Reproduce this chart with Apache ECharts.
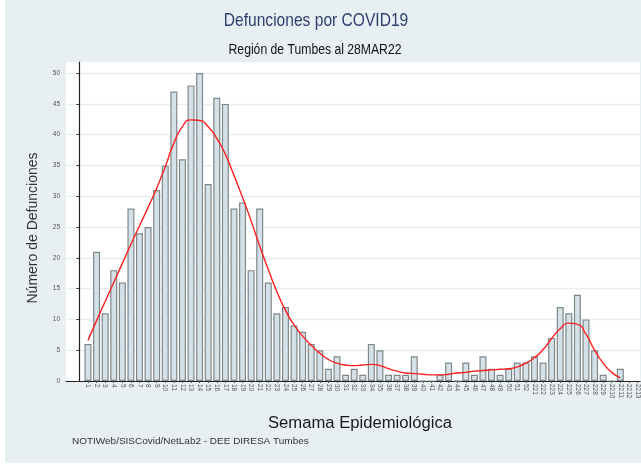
<!DOCTYPE html>
<html>
<head>
<meta charset="utf-8">
<script src="https://cdn.jsdelivr.net/npm/echarts@6/dist/echarts.min.js"></script>
<style>
  html, body { margin: 0; padding: 0; background: #ffffff; }
  #wrap { position: absolute; left: 5px; top: 0; width: 636px; height: 463px; background: #e8eff2; }
  #chart { width: 636px; height: 463px; }
</style>
</head>
<body>
<div id="wrap"><div id="chart"></div></div>
<script>
// Semana epidemiológica labels (2021: 1..52, 2022: 221..2213)
const weekLabels = [
  '1','2','3','4','5','6','7','8','9','10','11','12','13','14','15','16','17','18','19','20',
  '21','22','23','24','25','26','27','28','29','30','31','32','33','34','35','36','37','38','39','40',
  '41','42','43','44','45','46','47','48','49','50','51','52',
  '221','222','223','224','225','226','227','228','229','2210','2211','2212','2213'
];
// Weekly deaths (bars)
const deaths = [
  6, 21, 11, 18, 16, 28, 24, 25, 31, 35, 47, 36, 48, 50, 32, 46, 45, 28, 29, 18,
  28, 16, 11, 12, 9, 8, 6, 5, 2, 4, 1, 2, 1, 6, 5, 1, 1, 1, 4, 0,
  0, 1, 3, 0, 3, 1, 4, 2, 1, 2, 3, 3, 4, 3, 7, 12, 11, 14, 10, 5,
  1, 0, 2
];
// Smoothed trend (red curve)
const trend = [
  6.6, 9.8, 12.9, 16.0, 19.1, 22.2, 25.2, 28.2, 31.3, 34.8, 38.6, 41.3, 42.4, 42.3, 41.3, 39.4, 36.8, 33.4, 29.8, 26.0,
  21.9, 18.1, 14.5, 11.5, 9.1, 7.3, 5.8, 4.5, 3.5, 2.9, 2.6, 2.5, 2.6, 2.7, 2.5, 2.0, 1.6, 1.3, 1.2, 1.1,
  1.0, 1.0, 1.1, 1.3, 1.4, 1.6, 1.7, 1.8, 1.9, 2.0, 2.3, 2.9, 3.8, 5.1, 6.9, 8.5, 9.4, 9.2, 7.6, 5.0,
  2.9, 1.4, 0.5
];
const yTicks = [0, 5, 10, 15, 20, 25, 30, 35, 40, 45, 50];

const FONT = "'Liberation Sans', Arial, sans-serif";
const xPos = weekLabels.map((_, i) => i + 1);

const chart = echarts.init(document.getElementById('chart'), null, { renderer: 'canvas' });
chart.setOption({
  backgroundColor: 'transparent',
  animation: false,
  grid: { left: 61, top: 62, right: 0, bottom: 82, show: true, backgroundColor: '#ffffff', borderWidth: 0 },
  xAxis: {
    type: 'value',
    min: -1.56,
    max: 65.3,
    axisLine: { show: true, onZero: false, lineStyle: { color: '#222', width: 1.2 } },
    axisTick: { show: true, customValues: xPos, length: 2, lineStyle: { color: '#555' } },
    splitLine: { show: false },
    axisLabel: {
      customValues: xPos,
      rotate: -90,
      fontSize: 6.5,
      fontFamily: FONT,
      color: '#555',
      margin: 3,
      formatter: v => weekLabels[Math.round(v) - 1] || ''
    }
  },
  yAxis: {
    type: 'value',
    min: 0,
    max: 51.8,
    axisLine: { show: true, lineStyle: { color: '#222', width: 1.2 } },
    axisTick: { show: true, customValues: yTicks, length: 3, lineStyle: { color: '#333' } },
    axisLabel: { customValues: yTicks, fontSize: 6.5, fontFamily: FONT, color: '#555', margin: 6 },
    splitLine: { show: true, lineStyle: { color: '#e7eff3', width: 1.3 } }
  },
  series: [
    {
      type: 'bar',
      barWidth: 7,
      data: deaths.map((v, i) => [xPos[i], v]),
      itemStyle: { color: '#d4e1e8', borderColor: '#7f8789', borderWidth: 1.2 },
      z: 2
    },
    {
      type: 'line',
      smooth: 0.6,
      symbol: 'none',
      data: trend.map((v, i) => [xPos[i], v]),
      lineStyle: { color: '#ff2020', width: 1.4 },
      z: 3
    }
  ],
  graphic: [
    { type: 'text', x: 311, y: 21, scaleX: 0.82, style: { text: 'Defunciones por COVID19', font: '19px ' + FONT, fill: '#2e3f6e', textAlign: 'center', textVerticalAlign: 'middle' } },
    { type: 'text', x: 310, y: 50, scaleX: 0.87, style: { text: 'Región de Tumbes al 28MAR22', font: '14px ' + FONT, fill: '#111', textAlign: 'center', textVerticalAlign: 'middle' } },
    { type: 'text', x: 355, y: 424, scaleX: 1.04, style: { text: 'Semama Epidemiológica', font: '16px ' + FONT, fill: '#1a1a1a', textAlign: 'center', textVerticalAlign: 'middle' } },
    { type: 'text', x: 67, y: 441, scaleX: 1.05, style: { text: 'NOTIWeb/SISCovid/NetLab2 - DEE DIRESA Tumbes', font: '9.5px ' + FONT, fill: '#333', textAlign: 'left', textVerticalAlign: 'middle' } },
    { type: 'text', x: 28, y: 228, rotation: Math.PI / 2, style: { text: 'Número de Defunciones', font: '14px ' + FONT, fill: '#333', textAlign: 'center', textVerticalAlign: 'middle' } }
  ]
});
</script>
</body>
</html>
